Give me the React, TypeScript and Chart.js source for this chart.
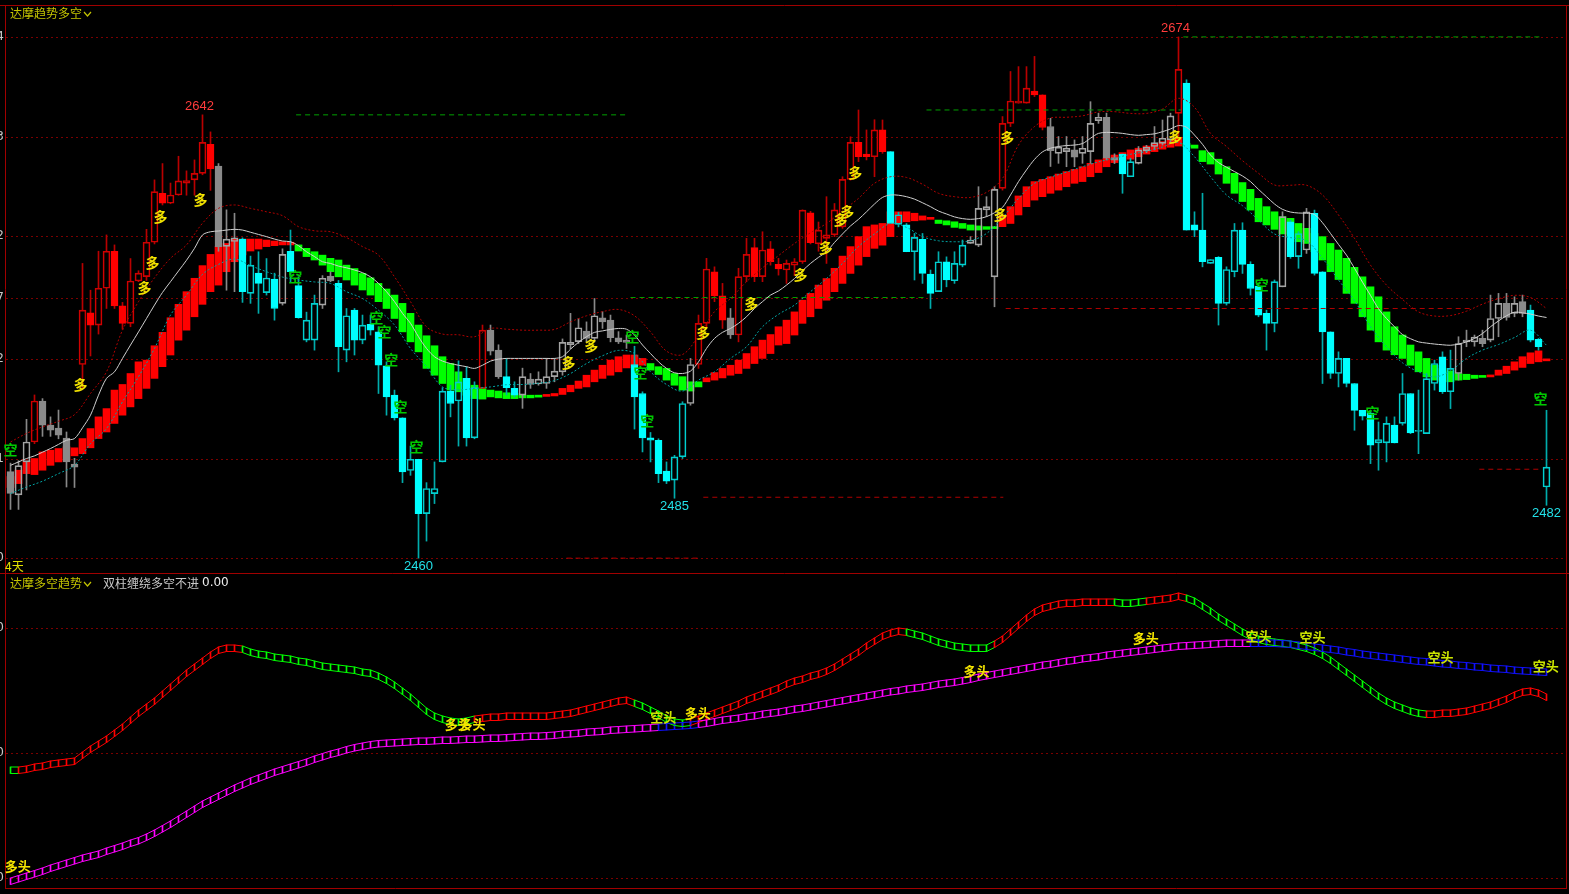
import React, { useEffect, useRef } from 'react';
import { Chart, registerables } from 'chart.js';

Chart.register(...registerables);

// ---------------- data ----------------
const candleIndex = Array.from({ length: 193 }, (_, i) => i);

const openPrice = [
  2495.5, 2486, 2499.5, 2507.7, 2524.5, 2514.6, 2513.4, 2509.3, 2498.6, 2539.5,
  2560.7, 2555.7, 2570.8, 2586, 2563.6, 2556.4, 2573.8, 2575.6, 2589.7, 2609.8,
  2605.7, 2609.1, 2614, 2615.3, 2618, 2629.9, 2621, 2588, 2590, 2591,
  2568.7, 2577, 2569, 2574.6, 2564.6, 2586, 2571.9, 2549.5, 2549.5, 2563.9,
  2575.8, 2572.8, 2545.4, 2561.8, 2549.5, 2556, 2552.9, 2539, 2526.9, 2517.6,
  2496, 2500.6, 2478.3, 2486.5, 2499.5, 2528.6, 2524.5, 2533.8, 2509.4, 2529.7,
  2553.6, 2545.4, 2534.5, 2529.7, 2526.9, 2533.5, 2531.5, 2531.7, 2534.5, 2536.5,
  2547.6, 2548.9, 2553.2, 2550.2, 2558.7, 2557.7, 2550.5, 2549.5, 2539.5, 2527.6,
  2509.4, 2508.4, 2495.7, 2492, 2501.6, 2523.5, 2539.5, 2556.4, 2577.6, 2567.7,
  2558.7, 2551.6, 2575.6, 2587.5, 2575.6, 2587, 2580.6, 2578.3, 2580.3, 2581.7,
  2601.8, 2589, 2591.3, 2592.7, 2596, 2615.5, 2630.7, 2625.9, 2624.8, 2635.8,
  2626.9, 2597, 2596.8, 2585.8, 2590.9, 2576.6, 2569.4, 2581.7, 2573.9, 2580.3,
  2589.2, 2588.5, 2603, 2575.5, 2611.8, 2638.5, 2646.8, 2646.8, 2651.8, 2650.2,
  2637.2, 2626.2, 2626.9, 2627.6, 2626.2, 2626.9, 2639.6, 2641, 2624.5, 2625.9,
  2616.6, 2622.1, 2627.3, 2629, 2630.3, 2631.7, 2642.6, 2655, 2596.8, 2594.7,
  2581, 2583.5, 2564.6, 2577.6, 2594.7, 2580.6, 2571.7, 2560.5, 2556.4, 2571.4,
  2598.1, 2583.8, 2586.5, 2601.6, 2577.6, 2552.9, 2535.8, 2542, 2531.7, 2520.7,
  2519.6, 2507.3, 2507.3, 2514.6, 2515.3, 2527.6, 2512, 2511.1, 2531.7, 2542.7,
  2528.3, 2535.8, 2548.8, 2548.8, 2550.2, 2549.5, 2558.4, 2564.6, 2560.5, 2565.3,
  2561.8, 2549.8, 2489.2,
];
const highPrice = [
  2499, 2500, 2517, 2527, 2525.5, 2518, 2520.8, 2511.8, 2501, 2581,
  2570, 2586, 2592.7, 2588.6, 2565, 2583, 2578, 2595, 2615.3, 2622,
  2614, 2625, 2619, 2623.5, 2642, 2635, 2622, 2603, 2601.6, 2591.5,
  2584, 2585.8, 2583, 2577, 2587, 2594.7, 2575.5, 2561, 2568, 2576,
  2577.6, 2574, 2562.5, 2562.5, 2559.8, 2559.8, 2555, 2540.6, 2529, 2517.6,
  2506, 2500.6, 2491, 2499.5, 2530, 2531, 2541, 2538.6, 2532.4, 2555.7,
  2555.7, 2547.6, 2542, 2532.4, 2538, 2535.8, 2536.5, 2542, 2542, 2550,
  2560.5, 2558.4, 2557, 2566.6, 2561.2, 2559.8, 2553, 2551.6, 2547, 2528.3,
  2511.6, 2509, 2499.5, 2502.2, 2524.2, 2542, 2559.8, 2583.1, 2579.6, 2572.8,
  2562.5, 2579, 2591.3, 2591.3, 2594, 2590, 2583.1, 2582.4, 2583, 2603,
  2602.4, 2598, 2608.4, 2605.6, 2616.6, 2633, 2644, 2635.8, 2640, 2639.9,
  2626.9, 2602, 2597.4, 2593.3, 2593.3, 2578.3, 2585.8, 2583.7, 2585.8, 2590.6,
  2592, 2612.5, 2608.4, 2612.5, 2641.3, 2659.8, 2661.8, 2661.8, 2666, 2650.2,
  2640.6, 2633.1, 2633.1, 2631.7, 2633.1, 2647.4, 2642.7, 2642.7, 2626, 2625.9,
  2624.2, 2629, 2629.5, 2637.2, 2639.9, 2642.7, 2674, 2656.4, 2602.2, 2609.8,
  2582.6, 2583.8, 2579.6, 2597.4, 2597.7, 2581.7, 2572.1, 2561.8, 2574.2, 2602.2,
  2598.8, 2594, 2603.6, 2602.9, 2577.6, 2552.9, 2544.7, 2542, 2531.7, 2520.7,
  2520.7, 2515.9, 2518, 2518, 2535.8, 2527.6, 2529, 2535.8, 2541.3, 2544.7,
  2545.4, 2550.9, 2553.6, 2551.6, 2553.6, 2568, 2568.7, 2568.7, 2567.3, 2568,
  2563.9, 2550.2, 2520.7,
];
const lowPrice = [
  2480, 2480, 2488, 2507, 2510, 2510, 2509, 2489.2, 2489, 2529.6,
  2543, 2552, 2562.5, 2562.5, 2554, 2555, 2573.5, 2574, 2589, 2605,
  2605.5, 2609, 2609, 2609, 2617.4, 2611, 2586, 2570, 2569.4, 2565,
  2564.6, 2560.5, 2568, 2557.7, 2563.9, 2573.5, 2558.5, 2548.8, 2545.4, 2562.5,
  2573.5, 2536.5, 2540.6, 2543.4, 2548, 2551.6, 2527.6, 2518.7, 2516.7, 2491,
  2494, 2460, 2467, 2482.4, 2499.5, 2518, 2506, 2506, 2509, 2529.7,
  2543.4, 2533.8, 2527, 2526.2, 2521.5, 2529.7, 2531, 2529.7, 2532.4, 2535.1,
  2546, 2548.1, 2548.8, 2548.8, 2554.3, 2548.8, 2548.1, 2546.1, 2513, 2503.6,
  2499.5, 2491, 2490.6, 2484.6, 2500.9, 2522.8, 2537.9, 2554.3, 2565.3, 2554.3,
  2550.2, 2548.8, 2573.5, 2573.5, 2573.5, 2580.3, 2576.2, 2572.8, 2576, 2581,
  2589, 2586, 2581, 2592, 2595.4, 2615.2, 2622.8, 2623.5, 2616.6, 2626.2,
  2597.4, 2596, 2585.8, 2574.2, 2572.8, 2562.5, 2569.4, 2571.4, 2572.8, 2579.6,
  2589.2, 2587.9, 2600.2, 2563.2, 2611.1, 2637.2, 2646.8, 2646.8, 2649.5, 2635.8,
  2620.8, 2622.1, 2620.7, 2620.7, 2622.1, 2622.1, 2638.5, 2623.5, 2622, 2609.8,
  2616.6, 2621.8, 2626.5, 2627.6, 2629.6, 2630.3, 2631.7, 2594.7, 2592, 2579.6,
  2581, 2555.7, 2563.9, 2575.5, 2576.9, 2568, 2559.1, 2545.4, 2552.9, 2571.4,
  2583.1, 2579, 2585.1, 2576.2, 2531.7, 2533.8, 2530.3, 2530.3, 2512.5, 2516.7,
  2498.8, 2496.1, 2499.5, 2507.3, 2514.6, 2511.1, 2502.9, 2511.1, 2529, 2527.6,
  2521.4, 2533.1, 2546.8, 2547, 2546.8, 2548.8, 2550.9, 2557.7, 2559.1, 2559.1,
  2548.8, 2545.4, 2481.7,
];
const closePrice = [
  2486.6, 2498, 2507.7, 2524.5, 2514.6, 2512.5, 2510.5, 2499.5, 2497.4, 2561.8,
  2555.7, 2570.8, 2586, 2563.6, 2556.4, 2573.8, 2577, 2589.7, 2610.5, 2605.7,
  2609.1, 2614.9, 2615, 2618, 2630.7, 2619.8, 2587.9, 2591, 2591.5, 2569.4,
  2580.3, 2572.8, 2575, 2562.5, 2584.7, 2577.6, 2558.7, 2557.7, 2564.6, 2574.9,
  2573.8, 2546.8, 2559.5, 2549.5, 2555.7, 2553.6, 2539.2, 2526.2, 2517.6, 2495.4,
  2500.6, 2478.3, 2488.6, 2488.6, 2528.6, 2523.5, 2532.4, 2509.4, 2530, 2553.6,
  2545, 2534.5, 2530, 2526.9, 2534.5, 2531.3, 2533.5, 2534.5, 2536.8, 2548.6,
  2548.6, 2554.6, 2550.2, 2559.5, 2557, 2550.5, 2548.8, 2548.6, 2526.2, 2509.4,
  2508.4, 2494.7, 2491.6, 2501.6, 2523.5, 2539.5, 2556.4, 2578.7, 2567.7, 2557.7,
  2551.6, 2575.6, 2584.7, 2575.6, 2586.5, 2581.7, 2578.7, 2581, 2581.7, 2602.9,
  2589.5, 2594.7, 2592.7, 2603, 2615.5, 2630.7, 2624.8, 2624.8, 2635.8, 2626.9,
  2597.4, 2601, 2585.8, 2591.7, 2576.9, 2568.7, 2581.7, 2574.2, 2581, 2588.5,
  2590.6, 2603.6, 2604.3, 2611.4, 2638.5, 2647.7, 2647.7, 2653, 2650.2, 2636.8,
  2627.3, 2628.7, 2628.3, 2624.6, 2628.3, 2638.5, 2641, 2624.2, 2623.4, 2617.7,
  2622.8, 2627.6, 2628.7, 2630.6, 2632.4, 2641.6, 2660.7, 2594.7, 2594.7, 2581.7,
  2582.6, 2564.6, 2578.5, 2594.7, 2580.6, 2570.7, 2559.8, 2556.4, 2573.5, 2600.2,
  2583.8, 2593.3, 2602.2, 2576.9, 2552.9, 2535.8, 2542, 2531.7, 2520.7, 2518.3,
  2506.4, 2508.7, 2515.3, 2507.3, 2527.6, 2511.4, 2512.5, 2533.7, 2539.9, 2528.3,
  2537.9, 2548.1, 2549.5, 2550.8, 2548.1, 2558.4, 2564.6, 2558.8, 2564.6, 2560.5,
  2549.5, 2546.8, 2497.4,
];
// candle colour state per bar: r = long (red), c = short (cyan), g = neutral (grey)
const candleTone =
  'gggrgggggr' + 'rrrrrrrrrr' + 'rrrrrrgggc' + 'ccccgccccg' + 'gccccccccc' +
  'cccccccccr' + 'ggccgggggg' + 'ggggggggcc' + 'cccccgrrrr' + 'grrrrrrrrr' +
  'rrrrrrrrrr' + 'cccccccccc' + 'ggggrrrrrr' + 'gggggggggc' + 'cgggggrccc' +
  'cccccccccg' + 'ccgccccccc' + 'cccccccccc' + 'cggggggggg' + 'ccc';

const bandFast = [
  2493.5, 2496.1, 2499.8, 2500.9, 2503.6, 2504.3, 2505, 2505.7, 2505.3, 2509.1,
  2513.2, 2518, 2521.4, 2529, 2531.3, 2535.8, 2540.6, 2541.3, 2547.2, 2552.7,
  2558.7, 2564.2, 2569.4, 2574.9, 2580.1, 2584.7, 2587.9, 2589.2, 2591, 2591,
  2591, 2591, 2590.6, 2590.2, 2589.9, 2589.7, 2586.1, 2583.8, 2582.4, 2580.3,
  2577.6, 2575.5, 2574.2, 2572.1, 2570.1, 2568, 2565.3, 2562.5, 2558.4, 2552.9,
  2548.8, 2544.7, 2537.9, 2535.1, 2531.7, 2529, 2528.3, 2526.9, 2525.5, 2525.3,
  2526.2, 2525.8, 2525.5, 2525.5, 2525.8, 2525.8, 2526.1, 2526.9, 2527.6, 2529.7,
  2531, 2532.7, 2535.1, 2537.2, 2539.2, 2541.3, 2542.7, 2543.4, 2543.4, 2542,
  2537.2, 2535.4, 2533.1, 2531, 2529, 2528.6, 2530.3, 2534, 2536.2, 2537.9,
  2539.2, 2541.3, 2544, 2546.8, 2549.5, 2551.8, 2555, 2557.7, 2561.1, 2565.9,
  2568.7, 2572.1, 2574.8, 2579, 2584, 2587.9, 2592, 2596.1, 2596.8, 2597.4,
  2602.2, 2602.2, 2602.2, 2601.6, 2600.5, 2599.9, 2597.4, 2596.8, 2595.8, 2595.4,
  2594.7, 2594.7, 2595, 2595.3, 2600.9, 2604.3, 2608.7, 2612.5, 2614.6, 2615.5,
  2616.6, 2617.7, 2618.7, 2619.6, 2620.7, 2622.1, 2623.5, 2624.2, 2625.5, 2626.5,
  2627.6, 2628.3, 2629.2, 2630.1, 2631, 2631.7, 2632.8, 2629, 2628.3, 2622.8,
  2621.8, 2617.7, 2613.9, 2609.8, 2606.4, 2602.9, 2598.1, 2596.8, 2595, 2593.1,
  2592, 2589.9, 2589.2, 2585.8, 2582.4, 2577.6, 2574.4, 2568.7, 2564.6, 2559.1,
  2553.6, 2548.8, 2545.4, 2543.5, 2542, 2539.2, 2536.5, 2534.4, 2533.1, 2532.4,
  2532.4, 2533.1, 2533.3, 2533.8, 2534.2, 2535.1, 2537.2, 2538.8, 2540.6, 2542.7,
  2544.3, 2545.1, 2541.3,
];
const bandSlow = [
  2489, 2490.6, 2494.7, 2494.3, 2496.1, 2498.1, 2499.5, 2500.2, 2502, 2502.9,
  2505.3, 2509.1, 2511.8, 2515.3, 2518.7, 2522.1, 2525.5, 2529.7, 2533.8, 2538.6,
  2543.4, 2549.5, 2553.6, 2559.1, 2564.2, 2569.4, 2572.1, 2577.6, 2581.7, 2584.5,
  2586.1, 2586.9, 2587.9, 2588.3, 2588.6, 2588.6, 2588.6, 2587.2, 2585.8, 2584.4,
  2583.1, 2582.4, 2580.3, 2578.9, 2576.9, 2575.1, 2572.8, 2570.5, 2568, 2564.6,
  2560.5, 2555.7, 2551.3, 2547.2, 2542.7, 2539.9, 2536.5, 2533.8, 2531, 2529.7,
  2529, 2528.6, 2527.9, 2527.6, 2526.9, 2526.9, 2526.6, 2526.4, 2526.6, 2527.2,
  2528.3, 2529.7, 2530.3, 2532.4, 2533.8, 2535.1, 2536.5, 2538.1, 2539.2, 2539.2,
  2539.9, 2538.6, 2537.9, 2535.8, 2534.5, 2532.4, 2532.4, 2532.4, 2533.1, 2534,
  2535.1, 2535.8, 2537.9, 2539.9, 2542, 2544, 2547.5, 2548.1, 2551.6, 2556.4,
  2559.1, 2562.5, 2565.9, 2569.4, 2572.8, 2576.9, 2580.3, 2583.8, 2587.2, 2588.5,
  2592, 2597.7, 2598.1, 2598.5, 2598.8, 2599.1, 2598.8, 2598.5, 2598.1, 2597.4,
  2596.8, 2596.4, 2596.1, 2596.1, 2596.1, 2597.4, 2600.9, 2604.3, 2607, 2608.4,
  2609.8, 2611.1, 2612.5, 2613.9, 2614.6, 2616.6, 2618.3, 2620.7, 2622.4, 2623.2,
  2623.8, 2624.8, 2625.9, 2626.9, 2627.9, 2628.7, 2629.2, 2630.3, 2629.6, 2627.3,
  2626.5, 2623.8, 2620.7, 2618, 2614.2, 2611.4, 2607.7, 2604.3, 2602.2, 2600.2,
  2599.5, 2597.4, 2595.4, 2593.3, 2592, 2589.2, 2586.5, 2583.1, 2579.4, 2575.5,
  2571.4, 2567.3, 2561.1, 2555, 2551.6, 2547.5, 2544.7, 2542, 2539.2, 2537.9,
  2536.9, 2535.8, 2535.5, 2535.1, 2534.7, 2534.4, 2535.1, 2535.8, 2537.2, 2538.3,
  2539.9, 2540.6, 2541,
];

const maLine = [
  2498.1, 2499.5, 2500.9, 2502, 2503.5, 2505, 2506.7, 2508.4, 2509.1, 2513.5,
  2518.7, 2526.9, 2533.8, 2536.5, 2542, 2547.5, 2552.9, 2558.4, 2563.9, 2569.1,
  2573.5, 2577.9, 2582.3, 2587.2, 2592.7, 2594, 2594.3, 2594.7, 2595, 2594.7,
  2593.8, 2592.9, 2592, 2591, 2590.2, 2589.9, 2588.3, 2585.8, 2583.8, 2581.7,
  2581, 2579.9, 2579.2, 2578.3, 2577.2, 2575.5, 2572.8, 2569.4, 2565.3, 2560.5,
  2556.4, 2550.9, 2546.1, 2542.7, 2540.9, 2539.9, 2539.2, 2538.6, 2537.9, 2539.2,
  2540.9, 2541.7, 2542, 2542, 2542, 2542, 2542, 2542, 2542, 2542.7,
  2545.8, 2548.6, 2550.9, 2552.7, 2553.3, 2553.9, 2554.3, 2554, 2551.6, 2547.5,
  2544, 2540.6, 2537.9, 2536.1, 2535.8, 2536.8, 2540.6, 2546.1, 2550.2, 2552.7,
  2554.3, 2556.4, 2559.1, 2562.5, 2565.3, 2568, 2569.7, 2572.1, 2574.8, 2578,
  2581, 2583.5, 2585.8, 2589.6, 2593.1, 2596.4, 2599.1, 2602.2, 2605.4, 2608.1,
  2609.1, 2609, 2608.4, 2607.4, 2605.9, 2604.3, 2602.5, 2601.3, 2600.1, 2599.4,
  2599.1, 2599.4, 2600.2, 2601.8, 2604, 2609.1, 2614.6, 2619.4, 2623.7, 2626.8,
  2628.3, 2629, 2629.4, 2629.6, 2630.2, 2632.4, 2634.4, 2634.8, 2634.7, 2634.4,
  2633.9, 2633.6, 2633.9, 2634.2, 2635.1, 2636.2, 2637.6, 2636.9, 2633.7, 2629.9,
  2625.5, 2622.4, 2620.5, 2618.7, 2616.9, 2614.6, 2611.4, 2608.4, 2605.4, 2603.2,
  2602.1, 2601.7, 2601.6, 2601.1, 2597.7, 2593.3, 2588.8, 2584.4, 2579, 2573.3,
  2567.9, 2562.4, 2558.4, 2555, 2551.8, 2550.1, 2548.8, 2548.3, 2547.9, 2547.6,
  2547.4, 2547.9, 2548.8, 2550.2, 2552.2, 2555, 2557.4, 2559.5, 2561, 2560.7,
  2560.2, 2559.4, 2558.8,
];

const dotIndex = Array.from({ length: 97 }, (_, k) => k * 2);
const lowerDots = [
  2486.5, 2489.2, 2491.6, 2494.7, 2498.1, 2507, 2513.2, 2524.2, 2534.5, 2546.1,
  2559.8, 2568, 2576.5, 2580.6, 2582.8, 2580.1, 2577.6, 2575.4, 2574.2, 2573.4,
  2572.8, 2569.4, 2566.6, 2561.8, 2555.7, 2546.1, 2538.6, 2530.3, 2529.1, 2529.7,
  2530.3, 2531.2, 2531.3, 2531.8, 2532.9, 2535.8, 2539.9, 2543.1, 2545.3, 2544,
  2536.5, 2531.3, 2528.6, 2533.1, 2536.5, 2542, 2546.8, 2555, 2560.1, 2563.9,
  2569.4, 2574.8, 2581, 2587.9, 2593.1, 2597.4, 2595.8, 2592, 2590.3, 2589.9,
  2590.3, 2593.3, 2599.8, 2607.7, 2613.9, 2616.4, 2618.5, 2620.7, 2622.7, 2624.2,
  2625.8, 2627, 2628.8, 2630.7, 2624.8, 2616.6, 2609.1, 2604.7, 2598.8, 2593.1,
  2591.6, 2590.3, 2583.1, 2574.2, 2565.7, 2555, 2546.8, 2540.2, 2536.5, 2534.4,
  2536.9, 2542, 2545.4, 2547.7, 2550.6, 2553.6, 2547.4,
];
const upperDots = [
  2507.7, 2511.2, 2513.9, 2516.2, 2518.9, 2527.6, 2536.5, 2553.6, 2565.3, 2575.1,
  2583.1, 2588.6, 2597.5, 2603.6, 2605, 2603.6, 2602.2, 2600.6, 2596.1, 2594.4,
  2594, 2591.6, 2587.9, 2584.4, 2575.5, 2565.3, 2555, 2552, 2551.7, 2550.9,
  2554.3, 2554, 2553.6, 2553.6, 2553.9, 2557, 2559.5, 2561.2, 2562.1, 2559.5,
  2552.9, 2545, 2543.6, 2551.3, 2561.2, 2566.6, 2573.5, 2579.2, 2584.2, 2589.2,
  2593.6, 2597.4, 2602.6, 2607.7, 2613.9, 2616.6, 2616.3, 2613.5, 2609.8, 2608.4,
  2608.1, 2610.2, 2615.9, 2629.6, 2637.2, 2640.7, 2641, 2641.6, 2643.2, 2643.3,
  2642.6, 2642.6, 2644.4, 2648.8, 2645.1, 2634.4, 2629, 2623.2, 2618, 2613.2,
  2613.1, 2613.1, 2609.1, 2600.9, 2591.3, 2580.3, 2572.1, 2566.2, 2561.1, 2559.4,
  2559.6, 2561.4, 2564.3, 2566.5, 2567.9, 2567, 2562.5,
];

const priceGrid = [2460, 2500.9, 2541.7, 2567, 2592.3, 2633.1, 2674];
const levelPrice = [2642, 2567, 2644, 2674, 2460, 2485, 2562.5, 2496.5];
const levelFrom = [35.7, 77.5, 114.5, 146.6, 69.5, 86.6, 124.4, 183.6];
const levelTo = [77.3, 114.4, 146.3, 191.4, 86.3, 124.1, 182.8, 191.3];
const levelIsSupport = [true, true, true, true, false, false, false, false];

const peakIndex = [24, 146];
const peakPrice = [2642, 2674];
const troughIndex = [51, 83, 192];
const troughPrice = [2460, 2485, 2482];

const duoIndex = [8.75, 16.75, 17.75, 18.75, 23.75, 69.75, 72.6, 86.6, 92.6, 98.75, 101.9, 103.75, 104.6, 105.6, 123.75, 124.6, 145.6];
const duoPrice = [2531.1, 2570.9, 2581.2, 2600.1, 2607.1, 2540.1, 2547.1, 2552.4, 2564.3, 2576.3, 2587.3, 2598.8, 2602.1, 2618.1, 2600.9, 2632.5, 2632.9];
const kongIndex = [0, 35.6, 45.75, 46.75, 47.6, 48.75, 50.75, 77.75, 78.75, 79.6, 156.4, 170.25, 191.25];
const kongPrice = [2504.4, 2575.4, 2558.6, 2552.9, 2541.3, 2522.0, 2505.6, 2550.8, 2536.0, 2516.3, 2572.2, 2519.6, 2525.3];

// lower panel
const trendLine = [
  44.4, 44.4, 44.8, 45.6, 46.0, 46.8, 47.2, 47.6, 48.0, 50.4,
  52.8, 54.8, 56.8, 59.2, 61.6, 64.4, 67.2, 69.6, 72.0, 74.8,
  77.6, 80.4, 83.2, 85.6, 88.0, 90.4, 92.4, 93.2, 93.2, 92.8,
  91.6, 90.8, 90.4, 89.6, 89.2, 88.8, 88.0, 87.6, 86.8, 86.0,
  85.6, 85.2, 84.8, 84.4, 83.6, 83.2, 82.0, 80.4, 78.4, 76.0,
  73.6, 70.8, 68.0, 66.0, 64.8, 64.0, 63.6, 64.0, 64.8, 65.2,
  65.6, 65.6, 66.0, 66.0, 66.0, 66.0, 66.0, 66.0, 66.4, 66.8,
  67.2, 68.0, 68.8, 69.6, 70.4, 71.2, 72.0, 72.4, 71.2, 70.0,
  68.4, 66.8, 64.8, 63.6, 63.2, 63.6, 64.8, 66.0, 67.2, 68.4,
  69.6, 70.8, 72.4, 73.6, 74.8, 76.0, 77.2, 78.8, 80.0, 80.8,
  82.0, 82.8, 84.0, 85.6, 87.6, 89.6, 91.6, 94.0, 96.0, 98.0,
  99.2, 100.0, 99.6, 98.8, 98.0, 96.8, 95.6, 94.8, 94.0, 93.6,
  93.2, 93.2, 93.2, 94.8, 96.8, 99.6, 102.4, 105.2, 107.6, 109.2,
  110.0, 110.8, 111.2, 111.2, 111.6, 111.6, 111.6, 111.6, 111.6, 111.2,
  111.2, 111.6, 112.0, 112.4, 112.8, 113.2, 114.0, 113.2, 112.0, 110.0,
  108.0, 105.6, 103.6, 101.6, 99.6, 98.0, 96.8, 96.0, 95.6, 95.2,
  94.8, 94.0, 93.2, 92.0, 90.4, 88.4, 86.0, 83.6, 81.2, 78.8,
  76.4, 74.0, 72.0, 70.4, 69.2, 68.0, 67.2, 66.8, 66.8, 67.2,
  67.2, 67.6, 68.0, 68.8, 69.6, 70.4, 71.6, 72.8, 74.4, 75.6,
  76.0, 75.2, 73.6,
];
const baseLine = [
  0.0, 1.0, 2.0, 3.0, 4.0, 5.2, 6.2, 7.2, 8.2, 9.2,
  10.0, 10.8, 12.0, 13.0, 14.0, 15.2, 16.2, 17.6, 19.2, 21.0,
  22.8, 24.8, 26.8, 28.8, 30.8, 32.4, 34.0, 35.6, 37.2, 38.6,
  40.0, 41.2, 42.4, 43.6, 44.6, 45.6, 46.6, 47.6, 48.8, 49.8,
  50.8, 51.6, 52.6, 53.4, 54.0, 54.6, 55.0, 55.2, 55.4, 55.6,
  55.8, 56.0, 56.0, 56.2, 56.4, 56.4, 56.6, 56.8, 56.8, 57.0,
  57.2, 57.2, 57.4, 57.6, 57.8, 58.0, 58.0, 58.2, 58.4, 58.8,
  59.0, 59.2, 59.6, 59.8, 60.0, 60.4, 60.6, 60.8, 61.0, 61.2,
  61.4, 61.6, 61.8, 62.0, 62.2, 62.4, 62.8, 63.2, 63.8, 64.4,
  64.8, 65.2, 65.8, 66.2, 66.8, 67.2, 67.6, 68.2, 68.8, 69.2,
  69.8, 70.4, 71.0, 71.6, 72.2, 72.8, 73.4, 74.0, 74.6, 75.2,
  75.8, 76.2, 76.8, 77.2, 77.6, 78.2, 78.8, 79.2, 79.6, 80.2,
  80.8, 81.6, 82.2, 82.8, 83.4, 84.0, 84.6, 85.2, 85.8, 86.4,
  86.8, 87.4, 88.0, 88.4, 89.0, 89.4, 89.8, 90.4, 90.8, 91.2,
  91.6, 92.0, 92.4, 92.8, 93.2, 93.6, 94.0, 94.2, 94.4, 94.6,
  94.8, 95.0, 95.2, 95.2, 95.2, 95.2, 95.2, 95.2, 95.2, 95.0,
  94.8, 94.4, 94.0, 93.6, 93.2, 92.8, 92.4, 91.8, 91.4, 90.8,
  90.4, 90.0, 89.6, 89.2, 88.8, 88.4, 88.0, 87.8, 87.4, 87.0,
  86.8, 86.4, 86.2, 85.8, 85.6, 85.2, 85.0, 84.8, 84.4, 84.2,
  84.0, 83.8, 83.6,
];
const trendTurnAt = [0, 1, 29, 58, 78, 85, 112, 123, 138, 142, 147, 177];
const trendTurnBull = [false, true, false, true, false, true, false, true, false, true, false, true];
const baseBlueFrom = [81, 155];
const baseBlueTo = [85, 192];
const subGrid = [0, 50, 100];
const duoTouIndex = [0.9, 55.9, 57.75, 85.9, 120.75, 141.9];
const duoTouValue = [4.8, 61.6, 61.6, 66, 82.8, 96];
const kongTouIndex = [81.6, 156, 162.75, 178.75, 191.9];
const kongTouValue = [64.4, 96.8, 96.4, 88.4, 84.8];

// ---------------- styling ----------------
const W = 1569;
const TOP_H = 574;
const BOT_H = 320;
const X_MIN = -0.5625;
const X_MAX = X_MIN + 1560 / 8;
const RIB = 2.6;
const FRAME = '#a00000';
const GRID = '#7a0000';
const CJK = '"Noto Sans CJK SC", "Noto Sans", sans-serif';

const bodyFill: Record<string, string> = { r: '#ff0000', c: '#00ffff', g: '#8a8a8a' };
const bodyEdge: Record<string, string> = { r: '#d00000', c: '#00d0d0', g: '#a4a4a4' };
const wickColor: Record<string, string> = { r: '#b80000', c: '#00acac', g: '#888888' };

const trendColor = candleIndex.map((i) => {
  let bull = false;
  for (let k = 0; k < trendTurnAt.length; k++) if (trendTurnAt[k] <= i) bull = trendTurnBull[k];
  return bull ? '#ff0000' : '#00ff00';
});
const baseColor = candleIndex.map((i) => {
  for (let k = 0; k < baseBlueFrom.length; k++) if (i >= baseBlueFrom[k] && i <= baseBlueTo[k]) return '#1010ff';
  return '#ff00ff';
});

function chevron(ctx: CanvasRenderingContext2D, x: number, y: number, color: string) {
  ctx.save();
  ctx.strokeStyle = color;
  ctx.lineWidth = 1.2;
  ctx.setLineDash([]);
  ctx.beginPath();
  ctx.moveTo(x, y - 2);
  ctx.lineTo(x + 3.5, y + 2);
  ctx.lineTo(x + 7, y - 2);
  ctx.stroke();
  ctx.restore();
}

const topPlugin = {
  id: 'topDecor',
  beforeDatasetsDraw(chart: any) {
    const { ctx, chartArea: a } = chart;
    const y = chart.scales.y;
    ctx.save();
    ctx.strokeStyle = GRID;
    ctx.lineWidth = 1;
    ctx.setLineDash([2, 3]);
    priceGrid.forEach((v) => {
      const py = Math.round(y.getPixelForValue(v)) + 0.5;
      ctx.beginPath();
      ctx.moveTo(a.left, py);
      ctx.lineTo(a.right, py);
      ctx.stroke();
    });
    ctx.restore();
  },
  afterDatasetsDraw(chart: any) {
    const { ctx, chartArea: a } = chart;
    const x = chart.scales.x;
    const y = chart.scales.y;
    ctx.save();
    // frame
    ctx.strokeStyle = FRAME;
    ctx.lineWidth = 1;
    ctx.setLineDash([]);
    ctx.beginPath();
    ctx.moveTo(0, a.top + 0.5);
    ctx.lineTo(chart.width, a.top + 0.5);
    ctx.moveTo(0, a.bottom + 0.5);
    ctx.lineTo(chart.width, a.bottom + 0.5);
    ctx.moveTo(a.left - 0.5, a.top);
    ctx.lineTo(a.left - 0.5, a.bottom + 1);
    ctx.moveTo(a.right + 0.5, a.top);
    ctx.lineTo(a.right + 0.5, a.bottom + 1);
    ctx.stroke();
    // clipped axis labels
    ctx.font = '12px "DejaVu Sans", sans-serif';
    ctx.fillStyle = '#c8c8c8';
    ctx.textAlign = 'right';
    ctx.textBaseline = 'middle';
    priceGrid.forEach((v) => ctx.fillText(String(Math.round(v)), a.left - 2, y.getPixelForValue(v)));
    // title
    ctx.textAlign = 'left';
    ctx.font = `12px ${CJK}`;
    ctx.fillStyle = '#c4c400';
    const t = '达摩趋势多空';
    ctx.fillText(t, 10, 13);
    chevron(ctx, 10 + ctx.measureText(t).width + 2, 14, '#c4c400');
    ctx.fillStyle = '#e0e000';
    ctx.fillText('4天', 5, 566);
    // price labels
    ctx.font = '13px "Liberation Sans", Arial, sans-serif';
    ctx.textAlign = 'center';
    ctx.fillStyle = '#ff3c3c';
    ctx.textBaseline = 'bottom';
    peakIndex.forEach((i, k) => ctx.fillText(String(peakPrice[k]), x.getPixelForValue(i) - 3, y.getPixelForValue(highPrice[i]) - 2));
    ctx.fillStyle = '#22e0e8';
    ctx.textBaseline = 'top';
    troughIndex.forEach((i, k) => ctx.fillText(String(troughPrice[k]), x.getPixelForValue(i), y.getPixelForValue(lowPrice[i]) + 2));
    // signal glyphs
    ctx.textBaseline = 'middle';
    ctx.font = `bold 14px ${CJK}`;
    ctx.fillStyle = '#f4e400';
    duoIndex.forEach((i, k) => ctx.fillText('多', x.getPixelForValue(i), y.getPixelForValue(duoPrice[k])));
    ctx.fillStyle = '#00c800';
    kongIndex.forEach((i, k) => ctx.fillText('空', x.getPixelForValue(i), y.getPixelForValue(kongPrice[k])));
    ctx.restore();
  },
};

const botPlugin = {
  id: 'botDecor',
  beforeDatasetsDraw(chart: any) {
    const { ctx, chartArea: a } = chart;
    const y = chart.scales.y;
    ctx.save();
    ctx.strokeStyle = GRID;
    ctx.lineWidth = 1;
    ctx.setLineDash([2, 3]);
    subGrid.forEach((v) => {
      const py = Math.round(y.getPixelForValue(v)) + 0.5;
      ctx.beginPath();
      ctx.moveTo(a.left, py);
      ctx.lineTo(a.right, py);
      ctx.stroke();
    });
    ctx.restore();
  },
  afterDatasetsDraw(chart: any) {
    const { ctx, chartArea: a } = chart;
    const x = chart.scales.x;
    const y = chart.scales.y;
    ctx.save();
    ctx.strokeStyle = FRAME;
    ctx.lineWidth = 1;
    ctx.setLineDash([]);
    ctx.beginPath();
    ctx.moveTo(a.left - 0.5, 0);
    ctx.lineTo(a.left - 0.5, a.bottom + 1);
    ctx.moveTo(a.right + 0.5, 0);
    ctx.lineTo(a.right + 0.5, a.bottom + 1);
    ctx.moveTo(a.left - 1, a.bottom + 0.5);
    ctx.lineTo(a.right + 1, a.bottom + 0.5);
    ctx.stroke();
    ctx.font = '12px "DejaVu Sans", sans-serif';
    ctx.fillStyle = '#c8c8c8';
    ctx.textAlign = 'right';
    ctx.textBaseline = 'middle';
    subGrid.forEach((v) => ctx.fillText(String(v), a.left - 2, y.getPixelForValue(v)));
    ctx.textAlign = 'left';
    ctx.font = `12px ${CJK}`;
    ctx.fillStyle = '#c4c400';
    const t = '达摩多空趋势';
    ctx.fillText(t, 10, 9);
    chevron(ctx, 10 + ctx.measureText(t).width + 2, 10, '#c4c400');
    ctx.fillStyle = '#c8c8c8';
    ctx.fillText('双柱缠绕多空不进', 103, 9);
    ctx.fillStyle = '#ececec';
    ctx.font = '12px "DejaVu Sans", sans-serif';
    ctx.fillText('0.00', 202, 9);
    ctx.textAlign = 'center';
    ctx.font = `bold 13px ${CJK}`;
    ctx.fillStyle = '#f4e400';
    duoTouIndex.forEach((i, k) => ctx.fillText('多头', x.getPixelForValue(i), y.getPixelForValue(duoTouValue[k])));
    ctx.fillStyle = '#cce400';
    kongTouIndex.forEach((i, k) => ctx.fillText('空头', x.getPixelForValue(i), y.getPixelForValue(kongTouValue[k])));
    ctx.restore();
  },
};

function topConfig(): any {
  const bodyLo = candleIndex.map((i) => Math.min(openPrice[i], closePrice[i]));
  const bodyHi = candleIndex.map((i) => Math.max(openPrice[i], closePrice[i]));
  const filled = candleIndex.map((i) => closePrice[i] < openPrice[i]);
  const tone = candleIndex.map((i) => candleTone[i]);
  const levelSets = levelPrice.map((v, k) => ({
    type: 'line',
    data: [{ x: levelFrom[k], y: v }, { x: levelTo[k], y: v }],
    borderColor: levelIsSupport[k] ? '#00a000' : '#b00000',
    borderWidth: 1,
    borderDash: [5, 4],
    pointRadius: 0,
    order: 7,
  }));
  return {
    type: 'bar',
    data: {
      datasets: [
        {
          type: 'bar',
          data: candleIndex.map((i) => ({ x: i, y: [Math.min(bandFast[i], bandSlow[i]), Math.max(bandFast[i], bandSlow[i])] })),
          backgroundColor: candleIndex.map((i) => (bandFast[i] >= bandSlow[i] ? '#ff0000' : '#00ff00')),
          barThickness: 7,
          minBarLength: 2,
          grouped: false,
          order: 10,
        },
        {
          type: 'bar',
          data: candleIndex.map((i) => ({ x: i, y: [lowPrice[i], bodyLo[i]] })),
          backgroundColor: tone.map((t) => wickColor[t]),
          barThickness: 1,
          grouped: false,
          order: 9,
        },
        {
          type: 'bar',
          data: candleIndex.map((i) => ({ x: i, y: [bodyHi[i], highPrice[i]] })),
          backgroundColor: tone.map((t) => wickColor[t]),
          barThickness: 1,
          grouped: false,
          order: 9,
        },
        {
          type: 'bar',
          data: candleIndex.map((i) => ({ x: i, y: [bodyLo[i], bodyHi[i]] })),
          backgroundColor: candleIndex.map((i) => (filled[i] ? bodyFill[tone[i]] : 'rgba(0,0,0,0)')),
          borderColor: candleIndex.map((i) => (filled[i] ? bodyFill[tone[i]] : bodyEdge[tone[i]])),
          borderWidth: 1,
          borderSkipped: false,
          barThickness: 7,
          minBarLength: 1,
          grouped: false,
          order: 8,
        },
        ...levelSets,
        {
          type: 'line',
          data: dotIndex.map((i, k) => ({ x: i, y: lowerDots[k] })),
          borderColor: '#00a4a4',
          borderWidth: 1,
          borderDash: [2, 2],
          pointRadius: 0,
          tension: 0.35,
          order: 4,
        },
        {
          type: 'line',
          data: dotIndex.map((i, k) => ({ x: i, y: upperDots[k] })),
          borderColor: '#b00000',
          borderWidth: 1,
          borderDash: [2, 2],
          pointRadius: 0,
          tension: 0.35,
          order: 4,
        },
        {
          type: 'line',
          data: candleIndex.map((i) => ({ x: i, y: maLine[i] })),
          borderColor: '#cfcfcf',
          borderWidth: 1,
          pointRadius: 0,
          tension: 0.3,
          order: 3,
        },
      ],
    },
    options: {
      responsive: false,
      animation: false,
      devicePixelRatio: 1,
      events: [],
      layout: { padding: { top: 5, left: 6, right: 3, bottom: 1 } },
      plugins: { legend: { display: false }, tooltip: { enabled: false } },
      scales: {
        x: { type: 'linear', display: false, min: X_MIN, max: X_MAX, offset: false },
        y: { type: 'linear', display: false, min: 2453.9, max: 2687.1 },
      },
    },
    plugins: [topPlugin],
  };
}

function ribbon(values: number[], colors: string[]): any[] {
  const seg = { borderColor: (c: any) => colors[c.p0DataIndex] };
  return [
    {
      type: 'line',
      data: candleIndex.map((i) => ({ x: i, y: values[i] })),
      borderColor: colors[0],
      segment: seg,
      borderWidth: 1,
      pointRadius: 0,
      order: 2,
    },
    {
      type: 'line',
      data: candleIndex.map((i) => ({ x: i, y: values[i] - RIB })),
      borderColor: colors[0],
      segment: seg,
      borderWidth: 1,
      pointRadius: 0,
      order: 2,
    },
    {
      type: 'bar',
      data: candleIndex.map((i) => ({ x: i, y: [values[i] - RIB, values[i]] })),
      backgroundColor: colors,
      barThickness: 1,
      grouped: false,
      order: 3,
    },
  ];
}

function botConfig(): any {
  return {
    type: 'bar',
    data: { datasets: [...ribbon(baseLine, baseColor), ...ribbon(trendLine, trendColor)] },
    options: {
      responsive: false,
      animation: false,
      devicePixelRatio: 1,
      events: [],
      layout: { padding: { top: 0, left: 6, right: 3, bottom: 6 } },
      plugins: { legend: { display: false }, tooltip: { enabled: false } },
      scales: {
        x: { type: 'linear', display: false, min: X_MIN, max: X_MAX, offset: false },
        y: { type: 'linear', display: false, min: -4, max: 121.6 },
      },
    },
    plugins: [botPlugin],
  };
}

export default function App() {
  const topRef = useRef<HTMLCanvasElement>(null);
  const botRef = useRef<HTMLCanvasElement>(null);
  useEffect(() => {
    document.body.style.margin = '0';
    document.body.style.background = '#000';
    const top = new Chart(topRef.current as HTMLCanvasElement, topConfig());
    const bot = new Chart(botRef.current as HTMLCanvasElement, botConfig());
    return () => {
      top.destroy();
      bot.destroy();
    };
  }, []);
  return (
    <div style={{ position: 'fixed', left: 0, top: 0, width: W, height: TOP_H + BOT_H, background: '#000', overflow: 'hidden' }}>
      <canvas ref={topRef} width={W} height={TOP_H} style={{ position: 'absolute', left: 0, top: 0, width: W, height: TOP_H }} />
      <canvas ref={botRef} width={W} height={BOT_H} style={{ position: 'absolute', left: 0, top: TOP_H, width: W, height: BOT_H }} />
    </div>
  );
}
